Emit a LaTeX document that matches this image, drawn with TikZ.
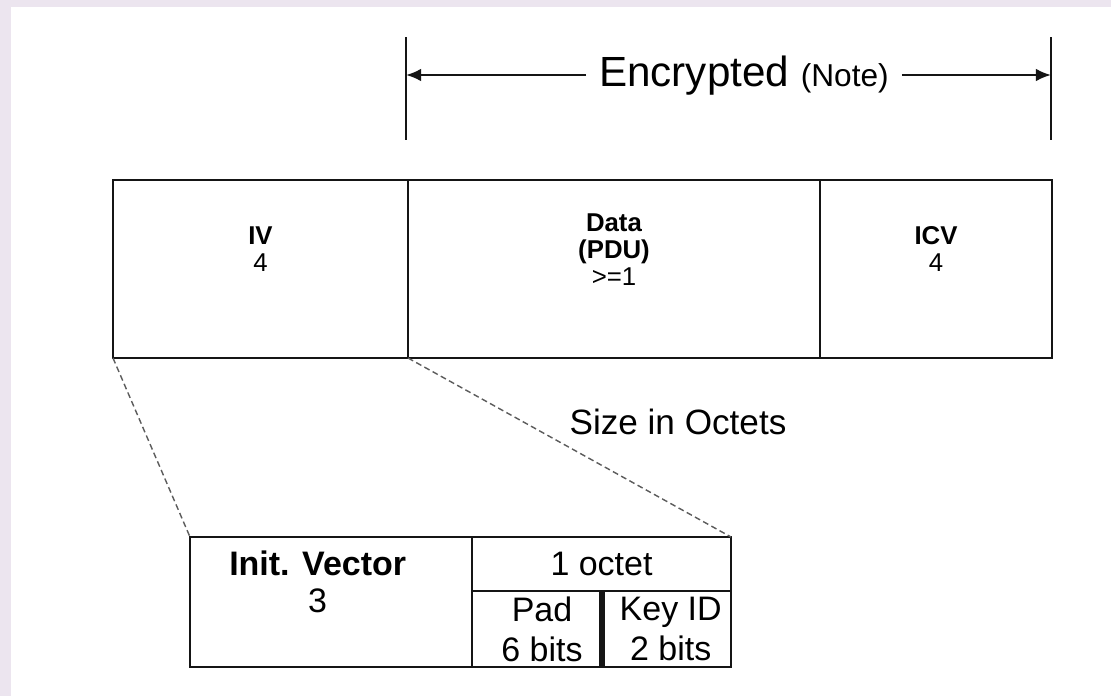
\documentclass[tikz,border=0pt]{standalone}
\usepackage{fontspec}
\setmainfont{Liberation Sans}
\usetikzlibrary{arrows.meta,positioning}
\definecolor{wepink}{HTML}{151515}
\definecolor{wepgrey}{HTML}{5C5C5C}
\definecolor{weptint}{HTML}{ECE5EF}

\begin{document}
\begin{tikzpicture}[
  x=0.03cm, y=-0.03cm,
  field/.style={draw=wepink,line width=2.4pt,outer sep=0pt,inner sep=0pt,align=center},
  fieldtxt/.style={inner sep=0pt,align=center,font=\fontsize{22}{23}\selectfont},
  subtxt/.style={inner sep=0pt,align=center,font=\fontsize{29}{34}\selectfont},
  guide/.style={wepgrey,line width=1.2pt,dash pattern=on 5pt off 3pt},
  arrow/.style={-{Latex[length=13pt,width=11pt]},line width=2pt,color=wepink},
  tickline/.style={line width=2.4pt,color=wepink}
]
  \useasboundingbox (0,0) rectangle (1111,696);
  \fill[weptint] (0,0) rectangle (1111,696);
  \fill[white] (11,7) rectangle (1111,696);

  % encrypted span
  \coordinate (encl) at (406,75);
  \coordinate (encr) at (1051,75);
  \draw[tickline] (406,37) -- (406,140);
  \draw[tickline] (1051,37) -- (1051,140);
  \node[anchor=base,inner xsep=11pt,font=\fontsize{36}{36}\selectfont] (enc) at (744,86)
    {Encrypted {\fontsize{27}{27}\selectfont(Note)}};
  \draw[arrow] (enc.west |- encl) -- (encl);
  \draw[arrow] (enc.east |- encr) -- (encr);

  % frame fields
  \node[field,anchor=north west,minimum width=8.85cm,minimum height=5.34cm] (iv) at (113,180) {};
  \node[field,right=0pt of iv,minimum width=12.36cm,minimum height=5.34cm] (data) {};
  \node[field,right=0pt of data,minimum width=6.96cm,minimum height=5.34cm] (icv) {};
  \node[fieldtxt,yshift=0.6cm] (ivlbl) at (iv.center) {\textbf{IV}\\4};
  \node[fieldtxt,yshift=0.57cm] (datalbl) at (data.center) {\textbf{Data}\\\textbf{(PDU)}\\>=1};
  \node[fieldtxt,yshift=0.6cm] (icvlbl) at (icv.center) {\textbf{ICV}\\4};

  \node[subtxt,font=\fontsize{30}{30}\selectfont] (size) at (678,422) {Size in Octets};

  % IV breakdown
  \node[field,anchor=north west,minimum width=8.46cm,minimum height=3.9cm] (ivec) at (190,537) {};
  \node[field,anchor=north west,minimum width=7.77cm,minimum height=1.62cm,font=\fontsize{29}{34}\selectfont] (octet) at (ivec.north east) {1 octet};
  \node[field,anchor=north west,minimum width=3.9cm,minimum height=2.28cm,font=\fontsize{29}{34}\selectfont] (pad) at (octet.south west) {\hspace{0.3cm}Pad\\\hspace{0.3cm}6 bits};
  \node[field,right=0pt of pad,minimum width=3.87cm,minimum height=2.28cm,font=\fontsize{29}{34}\selectfont] (keyid) {\hspace{0.25cm}Key ID\\\hspace{0.25cm}2 bits};
  \draw[line width=5pt,color=wepink] (pad.north east) -- (pad.south east);
  \node[subtxt,font=\fontsize{29}{31}\selectfont,xshift=-0.4cm,yshift=-1.35cm] (iveclbl) at (ivec.north) {\textbf{Init. Vector}\\3};

  \draw[guide] (iv.south west) -- (ivec.north west);
  \draw[guide] (iv.south east) -- (octet.north east);
\end{tikzpicture}
\end{document}
